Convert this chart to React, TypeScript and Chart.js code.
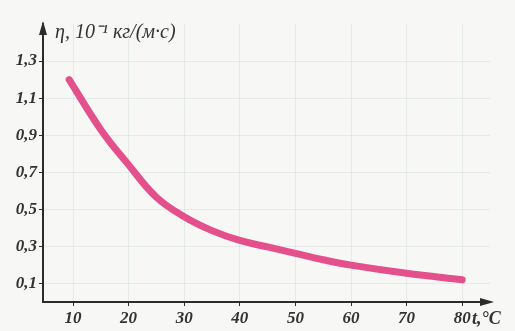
import React, { useEffect, useRef } from "react";
import { Chart, registerables } from "chart.js";

Chart.register(...registerables);

const temperatures = [9.3, 15, 20, 25, 30, 35, 40, 45, 50, 55, 60, 70, 80];
const viscosity = [1.2, 0.93, 0.74, 0.565, 0.46, 0.385, 0.332, 0.297, 0.262, 0.228, 0.199, 0.155, 0.12];
const xTickValues = [10, 20, 30, 40, 50, 60, 70, 80];
const yTickValues = [0.1, 0.3, 0.5, 0.7, 0.9, 1.1, 1.3];
const yTitle = "η, 10⁻¹ кг/(м·с)";
const xTitle = "t,°C";

const AXIS = "#2b2b2b";
const TEXT = "#333333";
const GRID = "rgba(165,180,195,0.22)";
const CURVE = "#e4508b";
const tickFont = { family: "'Liberation Serif', serif", size: 17, style: "italic" as const, weight: "bold" as const };

const arrowsPlugin = {
  id: "arrowsAndTitles",
  afterDraw(chart: any) {
    const { ctx, chartArea } = chart;
    ctx.save();
    ctx.fillStyle = AXIS;
    const ax = chartArea.right;
    const ay = chartArea.bottom;
    ctx.beginPath();
    ctx.moveTo(ax + 4, ay);
    ctx.lineTo(ax - 10, ay - 4);
    ctx.lineTo(ax - 10, ay + 4);
    ctx.closePath();
    ctx.fill();
    const bx = chartArea.left;
    const by = chartArea.top;
    ctx.beginPath();
    ctx.moveTo(bx, by - 3);
    ctx.lineTo(bx - 4, by + 11);
    ctx.lineTo(bx + 4, by + 11);
    ctx.closePath();
    ctx.fill();
    ctx.fillStyle = TEXT;
    ctx.textBaseline = "middle";
    ctx.textAlign = "left";
    ctx.font = "italic 20px 'Liberation Serif', serif";
    ctx.fillText(yTitle, bx + 12, 33);
    ctx.font = "italic bold 18px 'Liberation Serif', serif";
    ctx.fillText(xTitle, 472, 319);
    ctx.restore();
  },
};

export default function App() {
  const canvasRef = useRef<HTMLCanvasElement | null>(null);

  useEffect(() => {
    if (!canvasRef.current) return;
    const chart = new Chart(canvasRef.current, {
      type: "line",
      data: {
        datasets: [
          {
            data: temperatures.map((t, i) => ({ x: t, y: viscosity[i] })),
            borderColor: CURVE,
            borderWidth: 7,
            pointRadius: 0,
            tension: 0.4,
            borderCapStyle: "round",
            borderJoinStyle: "round",
            fill: false,
          },
        ],
      },
      options: {
        animation: false,
        responsive: true,
        maintainAspectRatio: false,
        layout: { padding: { top: 24, right: 25, left: 0, bottom: 0 } },
        plugins: { legend: { display: false }, tooltip: { enabled: false } },
        scales: {
          x: {
            type: "linear",
            min: 4.6,
            max: 85,
            afterBuildTicks: (s: any) => {
              s.ticks = xTickValues.map((v) => ({ value: v }));
            },
            afterFit: (s: any) => {
              s.height = 29;
            },
            border: { display: true, color: AXIS, width: 2 },
            grid: { color: GRID, tickColor: AXIS, tickLength: 4, lineWidth: 1 },
            ticks: {
              color: TEXT,
              font: tickFont,
              padding: 2,
              maxRotation: 0,
              autoSkip: false,
              callback: (v: any) => String(v),
            },
          },
          y: {
            type: "linear",
            min: 0,
            max: 1.5,
            afterBuildTicks: (s: any) => {
              s.ticks = yTickValues.map((v) => ({ value: v }));
            },
            afterFit: (s: any) => {
              s.width = 43;
            },
            border: { display: true, color: AXIS, width: 2 },
            grid: { color: GRID, tickColor: AXIS, tickLength: 4, lineWidth: 1 },
            ticks: {
              color: TEXT,
              font: tickFont,
              padding: 2,
              autoSkip: false,
              callback: (v: any) => Number(v).toFixed(1).replace(".", ","),
            },
          },
        },
      },
      plugins: [arrowsPlugin],
    } as any);
    return () => chart.destroy();
  }, []);

  return (
    <div
      style={{
        position: "fixed",
        left: 0,
        top: 0,
        width: 515,
        height: 331,
        background: "#f7f8f5",
      }}
    >
      <canvas ref={canvasRef} />
    </div>
  );
}
